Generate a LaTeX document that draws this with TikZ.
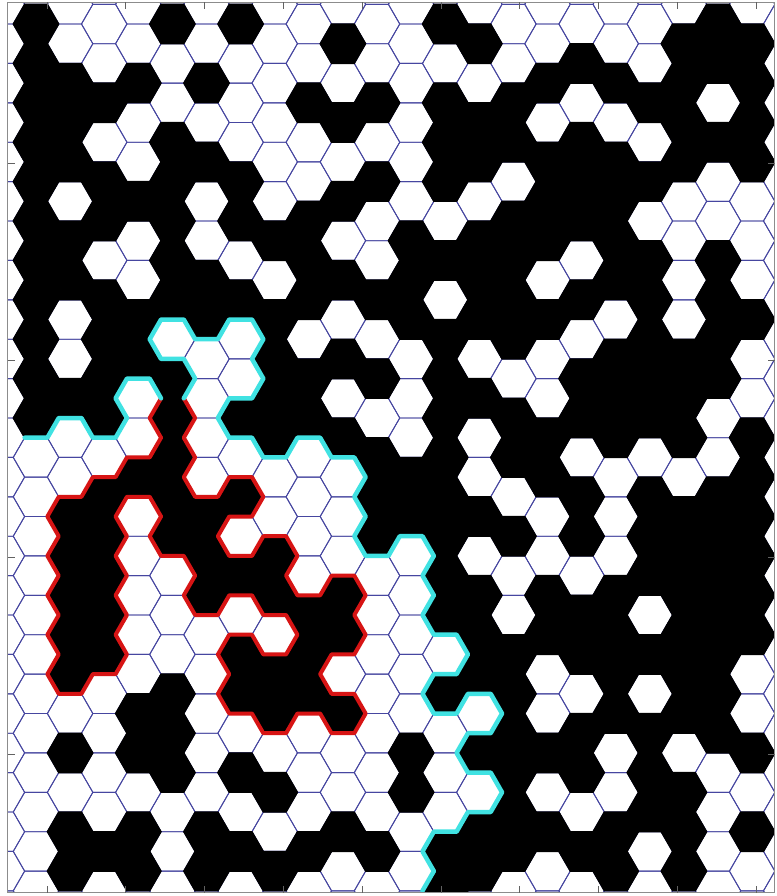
\documentclass[tikz,border=0pt]{standalone}
\usepackage{tikz}
\definecolor{gridblue}{RGB}{70,70,160}
\definecolor{loopred}{RGB}{215,20,20}
\definecolor{hullcyan}{RGB}{64,226,226}
\definecolor{framegray}{RGB}{140,140,140}
\newcommand{\hexat}[2]{(#1+2,#2) -- (#1+1,#2-1) -- (#1-1,#2-1) -- (#1-2,#2) -- (#1-1,#2+1) -- (#1+1,#2+1) -- cycle}

\begin{document}
\begin{tikzpicture}[x=1bp, y=-1bp,
  gridline/.style={draw=gridblue, line width=0.9bp},
  blackcell/.style={fill=black, draw=black, line width=1.3bp},
  hullline/.style={draw=hullcyan, line width=4.5bp, line join=round, line cap=round},
  loopline/.style={draw=loopred, line width=4bp, line join=round, line cap=round},
  tick/.style={draw=framegray!70!black, line width=0.8bp}]
  \useasboundingbox (0,0) rectangle (777,896);
  \fill[white] (0,0) rectangle (777,896);
  \begin{scope}
    \clip (7.5,2) rectangle (774.5,892.5);
    \begin{scope}[shift={(36bp,-4.3bp)}, x={(11.367bp,0bp)}, y={(0bp,-19.7bp)}]
      \foreach \k in {-1,...,22} {
        \foreach \r in {-1,...,23} {
          \pgfmathsetmacro\a{3*\k}
          \pgfmathsetmacro\b{2*\r+1-abs(mod(\k,2))}
          \draw[gridline] \hexat{\a}{\b};
        }
      }
      \foreach \k/\rows in {
        0/{0,1,2,3,4,5,6,7,8,9,10},
        1/{2,3,4,6,7,10,13,14,15,16,17,19,21,22},
        2/{2,4,5,7,8,9,10,12,13,14,15,16,21},
        3/{2,5,8,9,12,18,19,21,22},
        4/{0,3,4,5,6,7,9,10,11,12,13,17,18,19},
        5/{2,4,7,8,13,14,15,21,22},
        6/{0,4,5,7,10,12,14,16,17,19,21},
        7/{6,8,9,10,11,14,15,17,18,20,22},
        8/{2,5,6,7,9,10,15,16,17,21},
        9/{1,3,5,7,9,11,15,16,18,21},
        10/{2,4,7,9,11,12,13,21},
        11/{6,7,8,12,13,19,20},
        12/{0,2,3,4,6,8,9,10,11,12,13,14,15,17,21,22},
        13/{1,3,4,6,7,8,10,13,15,16,17,19,21,22},
        14/{2,3,5,6,7,8,10,11,13,16,17,18,19,20,21},
        15/{2,4,5,6,8,11,12,15,16,19,21},
        16/{1,3,4,5,7,9,10,12,13,15,16,18,19,21},
        17/{2,4,5,6,7,9,10,11,15,16,17,18,21,22},
        18/{2,4,6,7,8,9,10,12,13,14,16,18,19,20},
        19/{1,2,3,4,9,10,11,13,14,15,16,17,18,20,21,22},
        20/{0,1,3,6,7,8,9,12,13,14,15,16,17,18},
        21/{1,2,3,4,8,11,12,13,14,15,16,19,21}} {
        \foreach \r in \rows {
          \pgfmathsetmacro\a{3*\k}
          \pgfmathsetmacro\b{2*\r+1-abs(mod(\k,2))}
          \path[blackcell] \hexat{\a}{\b};
        }
      }
      \draw[loopline] (11,20) -- (10,21) -- (11,22) -- (10,23) -- (8,23) -- (7,24) -- (5,24) -- (4,25)
        -- (2,25) -- (1,26) -- (2,27) -- (1,28) -- (2,29) -- (1,30) -- (2,31) -- (1,32) -- (2,33)
        -- (1,34) -- (2,35) -- (4,35) -- (5,34) -- (7,34) -- (8,33) -- (7,32) -- (8,31) -- (7,30)
        -- (8,29) -- (7,28) -- (8,27) -- (7,26) -- (8,25) -- (10,25) -- (11,26) -- (10,27) -- (11,28)
        -- (13,28) -- (14,29) -- (13,30) -- (14,31) -- (16,31) -- (17,30) -- (19,30) -- (20,31)
        -- (22,31) -- (23,32) -- (22,33) -- (20,33) -- (19,32) -- (17,32) -- (16,33) -- (17,34)
        -- (16,35) -- (17,36) -- (19,36) -- (20,37) -- (22,37) -- (23,36) -- (25,36) -- (26,37)
        -- (28,37) -- (29,36) -- (28,35) -- (26,35) -- (25,34) -- (26,33) -- (28,33) -- (29,32)
        -- (28,31) -- (29,30) -- (28,29) -- (26,29) -- (25,30) -- (23,30) -- (22,29) -- (23,28)
        -- (22,27) -- (20,27) -- (19,28) -- (17,28) -- (16,27) -- (17,26) -- (19,26) -- (20,25)
        -- (19,24) -- (17,24) -- (16,25) -- (14,25) -- (13,24) -- (14,23) -- (13,22) -- (14,21)
        -- (13,20);
      \draw[hullline] (-1,22) -- (1,22) -- (2,21) -- (4,21) -- (5,22) -- (7,22) -- (8,21) -- (7,20)
        -- (8,19) -- (10,19) -- (11,20);
      \draw[hullline] (13,20) -- (14,19) -- (13,18) -- (11,18) -- (10,17) -- (11,16) -- (13,16)
        -- (14,17) -- (16,17) -- (17,16) -- (19,16) -- (20,17) -- (19,18) -- (20,19) -- (19,20)
        -- (17,20) -- (16,21) -- (17,22) -- (19,22) -- (20,23) -- (22,23) -- (23,22) -- (25,22)
        -- (26,23) -- (28,23) -- (29,24) -- (28,25) -- (29,26) -- (28,27) -- (29,28) -- (31,28)
        -- (32,27) -- (34,27) -- (35,28) -- (34,29) -- (35,30) -- (34,31) -- (35,32) -- (37,32)
        -- (38,33) -- (37,34) -- (35,34) -- (34,35) -- (35,36) -- (37,36) -- (38,35) -- (40,35)
        -- (41,36) -- (40,37) -- (38,37) -- (37,38) -- (38,39) -- (40,39) -- (41,40) -- (40,41)
        -- (38,41) -- (37,42) -- (35,42) -- (34,43) -- (35,44) -- (34,45);
    \end{scope}
  \end{scope}
  \draw[draw=framegray, line width=1bp] (7.5,2) rectangle (774.5,892.5);
  \foreach \x in {47,125.8,204.6,283.4,362.2,441,519.8,598.6,677.4,756.2} {
    \draw[tick] (\x,2) -- (\x,9);
    \draw[tick] (\x,892.5) -- (\x,885.5);
  }
  \foreach \y in {163,360,557,754} {
    \draw[tick] (7.5,\y) -- (14.5,\y);
    \draw[tick] (774.5,\y) -- (767.5,\y);
  }
\end{tikzpicture}
\end{document}
